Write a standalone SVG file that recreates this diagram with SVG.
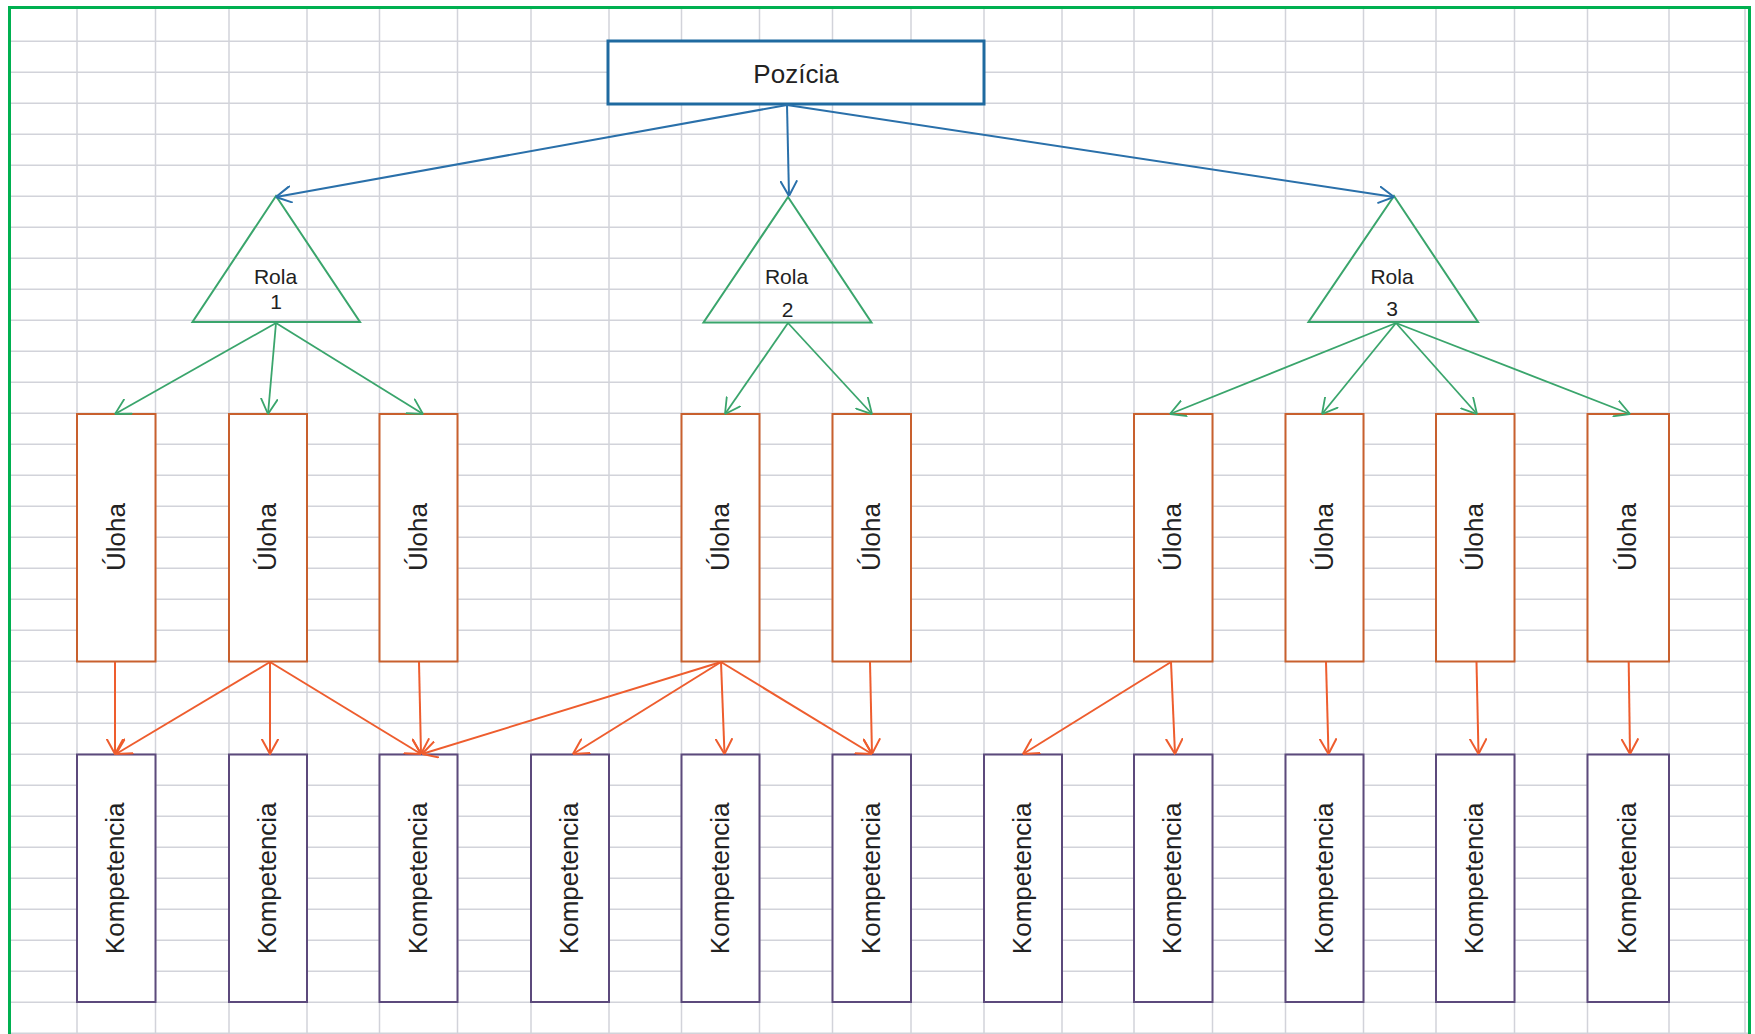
<svg xmlns="http://www.w3.org/2000/svg" width="1755" height="1034" viewBox="0 0 1755 1034">
<style>
.grid line{stroke:#d2d3da;stroke-width:1.5}
.box-ul{fill:#fff;stroke:#c8602e;stroke-width:2}
.box-ko{fill:#fff;stroke:#5c4a7c;stroke-width:2}
.tri{fill:none;stroke:#3aa56c;stroke-width:2}
.t{font-family:"Liberation Sans",Arial,sans-serif;fill:#222;text-anchor:middle}
.big{font-size:26px}
.rola{font-size:21px}
.c-blue{stroke:#2a70aa;stroke-width:2;fill:none;marker-end:url(#ab)}
.c-green{stroke:#3aa56c;stroke-width:1.8;fill:none;marker-end:url(#ag)}
.c-orange{stroke:#ee5d2e;stroke-width:2;fill:none;marker-end:url(#ao)}
</style>
<defs>
<marker id="ab" markerUnits="userSpaceOnUse" viewBox="0 0 16 18" markerWidth="16" markerHeight="18" refX="15.5" refY="9" orient="auto"><path d="M0,0.5 L15.5,9 L0,17.5" fill="none" stroke="#2a70aa" stroke-width="2"/></marker>
<marker id="ag" markerUnits="userSpaceOnUse" viewBox="0 0 16 18" markerWidth="16" markerHeight="18" refX="15.5" refY="9" orient="auto"><path d="M0,0.5 L15.5,9 L0,17.5" fill="none" stroke="#3aa56c" stroke-width="1.8"/></marker>
<marker id="ao" markerUnits="userSpaceOnUse" viewBox="0 0 16 18" markerWidth="16" markerHeight="18" refX="15.5" refY="9" orient="auto"><path d="M0,0.5 L15.5,9 L0,17.5" fill="none" stroke="#ee5d2e" stroke-width="2"/></marker>
</defs>
<rect x="0" y="0" width="1755" height="1034" fill="#fff"/>
<g class="grid">
<line x1="11" y1="41.3" x2="1748" y2="41.3"/>
<line x1="11" y1="72.3" x2="1748" y2="72.3"/>
<line x1="11" y1="103.3" x2="1748" y2="103.3"/>
<line x1="11" y1="134.3" x2="1748" y2="134.3"/>
<line x1="11" y1="165.3" x2="1748" y2="165.3"/>
<line x1="11" y1="196.3" x2="1748" y2="196.3"/>
<line x1="11" y1="227.3" x2="1748" y2="227.3"/>
<line x1="11" y1="258.3" x2="1748" y2="258.3"/>
<line x1="11" y1="289.3" x2="1748" y2="289.3"/>
<line x1="11" y1="320.3" x2="1748" y2="320.3"/>
<line x1="11" y1="351.3" x2="1748" y2="351.3"/>
<line x1="11" y1="382.3" x2="1748" y2="382.3"/>
<line x1="11" y1="413.3" x2="1748" y2="413.3"/>
<line x1="11" y1="444.3" x2="1748" y2="444.3"/>
<line x1="11" y1="475.3" x2="1748" y2="475.3"/>
<line x1="11" y1="506.3" x2="1748" y2="506.3"/>
<line x1="11" y1="537.3" x2="1748" y2="537.3"/>
<line x1="11" y1="568.3" x2="1748" y2="568.3"/>
<line x1="11" y1="599.3" x2="1748" y2="599.3"/>
<line x1="11" y1="630.3" x2="1748" y2="630.3"/>
<line x1="11" y1="661.3" x2="1748" y2="661.3"/>
<line x1="11" y1="692.3" x2="1748" y2="692.3"/>
<line x1="11" y1="723.3" x2="1748" y2="723.3"/>
<line x1="11" y1="754.3" x2="1748" y2="754.3"/>
<line x1="11" y1="785.3" x2="1748" y2="785.3"/>
<line x1="11" y1="816.3" x2="1748" y2="816.3"/>
<line x1="11" y1="847.3" x2="1748" y2="847.3"/>
<line x1="11" y1="878.3" x2="1748" y2="878.3"/>
<line x1="11" y1="909.3" x2="1748" y2="909.3"/>
<line x1="11" y1="940.3" x2="1748" y2="940.3"/>
<line x1="11" y1="971.3" x2="1748" y2="971.3"/>
<line x1="11" y1="1002.3" x2="1748" y2="1002.3"/>
<line x1="11" y1="1033.3" x2="1748" y2="1033.3"/>
<line x1="77" y1="9" x2="77" y2="1034"/>
<line x1="155.5" y1="9" x2="155.5" y2="1034"/>
<line x1="229" y1="9" x2="229" y2="1034"/>
<line x1="307" y1="9" x2="307" y2="1034"/>
<line x1="379.5" y1="9" x2="379.5" y2="1034"/>
<line x1="457.5" y1="9" x2="457.5" y2="1034"/>
<line x1="531" y1="9" x2="531" y2="1034"/>
<line x1="609" y1="9" x2="609" y2="1034"/>
<line x1="681.5" y1="9" x2="681.5" y2="1034"/>
<line x1="759.5" y1="9" x2="759.5" y2="1034"/>
<line x1="832.5" y1="9" x2="832.5" y2="1034"/>
<line x1="911" y1="9" x2="911" y2="1034"/>
<line x1="984" y1="9" x2="984" y2="1034"/>
<line x1="1062" y1="9" x2="1062" y2="1034"/>
<line x1="1134" y1="9" x2="1134" y2="1034"/>
<line x1="1212.5" y1="9" x2="1212.5" y2="1034"/>
<line x1="1285.5" y1="9" x2="1285.5" y2="1034"/>
<line x1="1363.5" y1="9" x2="1363.5" y2="1034"/>
<line x1="1436" y1="9" x2="1436" y2="1034"/>
<line x1="1514.5" y1="9" x2="1514.5" y2="1034"/>
<line x1="1587.5" y1="9" x2="1587.5" y2="1034"/>
<line x1="1669" y1="9" x2="1669" y2="1034"/>
<line x1="1745" y1="9" x2="1745" y2="1034"/>
</g>
<rect x="9.5" y="7.5" width="1740" height="1040" fill="none" stroke="#00b050" stroke-width="3"/>

<g id="pozicia">
<rect x="608" y="41" width="376" height="63" fill="#fff" stroke="#1f6aa0" stroke-width="3"/>
<text class="t big" x="796" y="82.5">Pozícia</text>
</g>

<g id="rola1">
<polygon class="tri" points="276,196 192.5,322 360,322"/>
<text class="t rola" x="275.5" y="284">Rola</text>
<text class="t rola" x="276" y="309">1</text>
</g>
<g id="rola2">
<polygon class="tri" points="788,197 703.5,322.5 871.5,322.5"/>
<text class="t rola" x="786.5" y="284">Rola</text>
<text class="t rola" x="787.5" y="316.5">2</text>
</g>
<g id="rola3">
<polygon class="tri" points="1394,196 1308.5,322 1478,322"/>
<text class="t rola" x="1392" y="283.5">Rola</text>
<text class="t rola" x="1392" y="315.5">3</text>
</g>

<g id="uloha1"><rect class="box-ul" x="77" y="414" width="78.5" height="247.5"/><text class="t big" transform="translate(124.5,537) rotate(-90)">Úloha</text></g>
<g id="uloha2"><rect class="box-ul" x="229" y="414" width="78" height="247.5"/><text class="t big" transform="translate(276,537) rotate(-90)">Úloha</text></g>
<g id="uloha3"><rect class="box-ul" x="379.5" y="414" width="78" height="247.5"/><text class="t big" transform="translate(426.5,537) rotate(-90)">Úloha</text></g>
<g id="uloha4"><rect class="box-ul" x="681.5" y="414" width="78" height="247.5"/><text class="t big" transform="translate(728.5,537) rotate(-90)">Úloha</text></g>
<g id="uloha5"><rect class="box-ul" x="832.5" y="414" width="78.5" height="247.5"/><text class="t big" transform="translate(879.5,537) rotate(-90)">Úloha</text></g>
<g id="uloha6"><rect class="box-ul" x="1134" y="414" width="78.5" height="247.5"/><text class="t big" transform="translate(1181,537) rotate(-90)">Úloha</text></g>
<g id="uloha7"><rect class="box-ul" x="1285.5" y="414" width="78" height="247.5"/><text class="t big" transform="translate(1332.5,537) rotate(-90)">Úloha</text></g>
<g id="uloha8"><rect class="box-ul" x="1436" y="414" width="78.5" height="247.5"/><text class="t big" transform="translate(1483,537) rotate(-90)">Úloha</text></g>
<g id="uloha9"><rect class="box-ul" x="1587.5" y="414" width="81.5" height="247.5"/><text class="t big" transform="translate(1636,537) rotate(-90)">Úloha</text></g>

<g id="komp1"><rect class="box-ko" x="77" y="754.5" width="78.5" height="247.5"/><text class="t big" transform="translate(124,878.3) rotate(-90)">Kompetencia</text></g>
<g id="komp2"><rect class="box-ko" x="229" y="754.5" width="78" height="247.5"/><text class="t big" transform="translate(276,878.3) rotate(-90)">Kompetencia</text></g>
<g id="komp3"><rect class="box-ko" x="379.5" y="754.5" width="78" height="247.5"/><text class="t big" transform="translate(426.5,878.3) rotate(-90)">Kompetencia</text></g>
<g id="komp4"><rect class="box-ko" x="531" y="754.5" width="78" height="247.5"/><text class="t big" transform="translate(578,878.3) rotate(-90)">Kompetencia</text></g>
<g id="komp5"><rect class="box-ko" x="681.5" y="754.5" width="78" height="247.5"/><text class="t big" transform="translate(728.5,878.3) rotate(-90)">Kompetencia</text></g>
<g id="komp6"><rect class="box-ko" x="832.5" y="754.5" width="78.5" height="247.5"/><text class="t big" transform="translate(879.5,878.3) rotate(-90)">Kompetencia</text></g>
<g id="komp7"><rect class="box-ko" x="984" y="754.5" width="78" height="247.5"/><text class="t big" transform="translate(1031,878.3) rotate(-90)">Kompetencia</text></g>
<g id="komp8"><rect class="box-ko" x="1134" y="754.5" width="78.5" height="247.5"/><text class="t big" transform="translate(1181,878.3) rotate(-90)">Kompetencia</text></g>
<g id="komp9"><rect class="box-ko" x="1285.5" y="754.5" width="78" height="247.5"/><text class="t big" transform="translate(1332.5,878.3) rotate(-90)">Kompetencia</text></g>
<g id="komp10"><rect class="box-ko" x="1436" y="754.5" width="78.5" height="247.5"/><text class="t big" transform="translate(1483,878.3) rotate(-90)">Kompetencia</text></g>
<g id="komp11"><rect class="box-ko" x="1587.5" y="754.5" width="81.5" height="247.5"/><text class="t big" transform="translate(1636,878.3) rotate(-90)">Kompetencia</text></g>

<g id="connectors">
<line class="c-blue" x1="787" y1="105" x2="276" y2="197"/>
<line class="c-blue" x1="787" y1="105" x2="789" y2="196"/>
<line class="c-blue" x1="787" y1="105" x2="1394" y2="197"/>

<line class="c-green" x1="276" y1="323" x2="115" y2="414"/>
<line class="c-green" x1="276" y1="323" x2="268" y2="414"/>
<line class="c-green" x1="276" y1="323" x2="423" y2="414"/>
<line class="c-green" x1="788" y1="323" x2="725" y2="414"/>
<line class="c-green" x1="788" y1="323" x2="872" y2="414"/>
<line class="c-green" x1="1396" y1="323" x2="1170" y2="414"/>
<line class="c-green" x1="1396" y1="323" x2="1322" y2="414"/>
<line class="c-green" x1="1396" y1="323" x2="1477" y2="414"/>
<line class="c-green" x1="1396" y1="323" x2="1630" y2="414"/>

<line class="c-orange" x1="115" y1="662" x2="115" y2="754"/>
<line class="c-orange" x1="270" y1="662" x2="116" y2="754"/>
<line class="c-orange" x1="270" y1="662" x2="270" y2="754"/>
<line class="c-orange" x1="270" y1="662" x2="421" y2="754"/>
<line class="c-orange" x1="419" y1="662" x2="421" y2="754"/>
<line class="c-orange" x1="721" y1="662" x2="422" y2="754"/>
<line class="c-orange" x1="721" y1="662" x2="573" y2="754"/>
<line class="c-orange" x1="721" y1="662" x2="724.5" y2="754"/>
<line class="c-orange" x1="721" y1="662" x2="872" y2="754"/>
<line class="c-orange" x1="870" y1="662" x2="872" y2="754"/>
<line class="c-orange" x1="1171" y1="662" x2="1023" y2="754"/>
<line class="c-orange" x1="1171" y1="662" x2="1175" y2="754"/>
<line class="c-orange" x1="1326" y1="662" x2="1328.5" y2="754"/>
<line class="c-orange" x1="1476.5" y1="662" x2="1478.5" y2="754"/>
<line class="c-orange" x1="1628.7" y1="662" x2="1630" y2="754"/>
</g>
</svg>
